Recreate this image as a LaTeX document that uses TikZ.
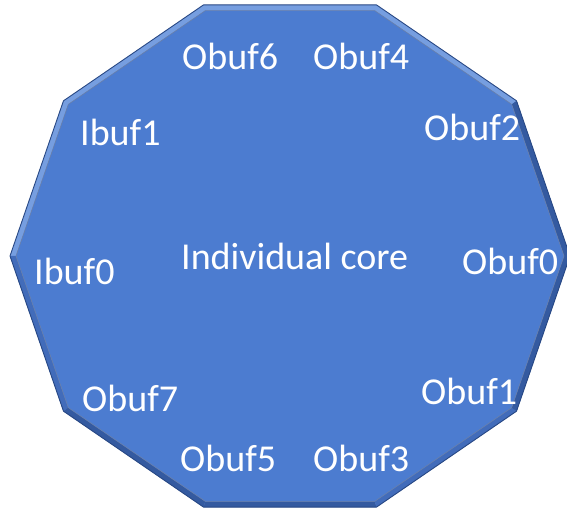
\documentclass[tikz,border=0pt]{standalone}
\usepackage{fontspec}
\setmainfont{Carlito}
\definecolor{corefill}{RGB}{76,124,208}
\definecolor{edgedark}{RGB}{40,72,132}
\definecolor{bandlight}{RGB}{118,158,224}
\definecolor{bandmid}{RGB}{66,108,186}
\definecolor{banddark}{RGB}{52,90,160}
\begin{document}
\begin{tikzpicture}[x=1pt,y=1pt,
  lbl/.style={anchor=base west, inner sep=0pt, text=white, font=\fontsize{38}{45}\selectfont}]
\useasboundingbox (0,0) rectangle (567,511);
\foreach \k in {0,...,9}{
  \coordinate (o\k) at ({290+280*cos(36*\k)},{255+264*sin(36*\k)});
  \coordinate (i\k) at ({290+274*cos(36*\k)},{255+258*sin(36*\k)});
}
% bevel band
\fill[bandlight] (o0)--(o1)--(o2)--(o3)--(o4)--(o5)--(o6)--(o7)--(o8)--(o9)--cycle;
\foreach \a/\b/\c in {0/1/banddark,5/6/bandmid,6/7/banddark,7/8/banddark,8/9/bandmid,9/0/banddark}{
  \fill[\c] (o\a)--(o\b)--(i\b)--(i\a)--cycle;
}
% face
\fill[corefill] (i0)--(i1)--(i2)--(i3)--(i4)--(i5)--(i6)--(i7)--(i8)--(i9)--cycle;
\draw[edgedark!70, line width=0.6pt] (i0)--(i1)--(i2)--(i3)--(i4)--(i5)--(i6)--(i7)--(i8)--(i9)--cycle;
\draw[edgedark, line width=0.9pt, line join=round] (o0)--(o1)--(o2)--(o3)--(o4)--(o5)--(o6)--(o7)--(o8)--(o9)--cycle;
% labels
\node[lbl] (ob6) at (182,441) {Obuf6};
\node[lbl] (ob4) at (313,441) {Obuf4};
\node[lbl] (ib1) at (80,365) {Ibuf1};
\node[lbl] (ob2) at (424,370) {Obuf2};
\node[lbl] (core) at (181,241) {Individual core};
\node[lbl] (ob0) at (462,236) {Obuf0};
\node[lbl] (ib0) at (34,226) {Ibuf0};
\node[lbl] (ob7) at (82,99) {Obuf7};
\node[lbl] (ob1) at (421,106) {Obuf1};
\node[lbl] (ob5) at (180,39) {Obuf5};
\node[lbl] (ob3) at (313,39) {Obuf3};
\end{tikzpicture}
\end{document}
